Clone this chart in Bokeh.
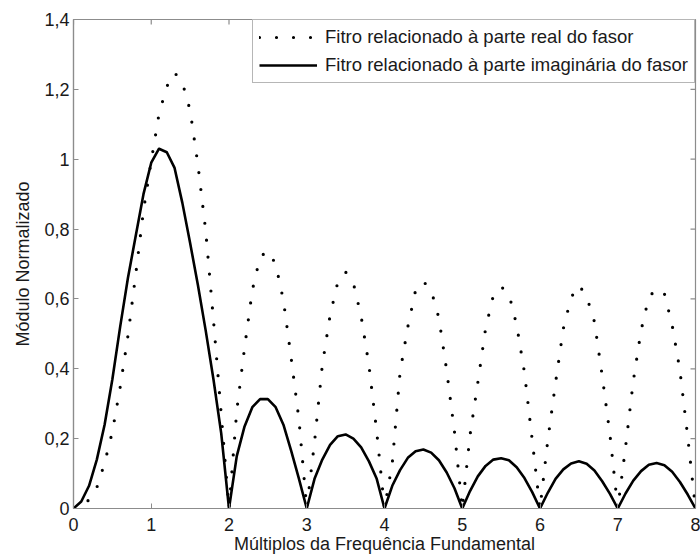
import math
from bokeh.plotting import figure
from bokeh.models import (FixedTicker, Legend, LegendItem, Range1d,
                          ColumnDataSource)
from bokeh.embed import file_html
from bokeh.resources import INLINE

# ---- data ----
freq = [round(i * 0.1, 1) for i in range(81)]

real_filter = [
    0.0, 0.005, 0.025, 0.06, 0.13, 0.22, 0.347, 0.494, 0.67, 0.853,
    0.995, 1.13, 1.208, 1.248, 1.22, 1.14, 0.985, 0.796, 0.54, 0.27,
    0.0, 0.28, 0.46, 0.625, 0.72, 0.738, 0.70, 0.596, 0.43, 0.254,
    0.0, 0.19, 0.41, 0.553, 0.649, 0.677, 0.645, 0.55, 0.41, 0.22,
    0.0, 0.13, 0.39, 0.52, 0.625, 0.65, 0.625, 0.545, 0.395, 0.22,
    0.0, 0.21, 0.36, 0.515, 0.61, 0.635, 0.615, 0.525, 0.39, 0.196,
    0.0, 0.195, 0.36, 0.515, 0.604, 0.64, 0.607, 0.535, 0.38, 0.211,
    0.0, 0.175, 0.365, 0.51, 0.605, 0.63, 0.615, 0.525, 0.395, 0.205,
    0.0,
]

imag_filter = [
    0.0, 0.02, 0.065, 0.14, 0.24, 0.37, 0.52, 0.66, 0.78, 0.9,
    0.99, 1.03, 1.02, 0.975, 0.875, 0.76, 0.64, 0.51, 0.37, 0.215,
    0.0, 0.15, 0.235, 0.29, 0.313, 0.313, 0.29, 0.24, 0.165, 0.085,
    0.0, 0.085, 0.14, 0.182, 0.207, 0.212, 0.2, 0.175, 0.135, 0.085,
    0.0, 0.065, 0.11, 0.145, 0.164, 0.169, 0.16, 0.138, 0.103, 0.058,
    0.0, 0.05, 0.092, 0.122, 0.14, 0.144, 0.138, 0.118, 0.087, 0.047,
    0.0, 0.045, 0.085, 0.112, 0.129, 0.135, 0.128, 0.109, 0.078, 0.042,
    0.0, 0.043, 0.08, 0.107, 0.125, 0.13, 0.124, 0.105, 0.076, 0.04,
    0.0,
]

series_labels = [
    "Fitro relacionado à parte real do fasor",
    "Fitro relacionado à parte imaginária do fasor",
]

x_ticks = [0, 1, 2, 3, 4, 5, 6, 7, 8]
x_tick_labels = ["0", "1", "2", "3", "4", "5", "6", "7", "8"]
y_ticks = [0, 0.2, 0.4, 0.6, 0.8, 1, 1.2, 1.4]
y_tick_labels = ["0", "0,2", "0,4", "0,6", "0,8", "1", "1,2", "1,4"]

x_title = "Múltiplos da Frequência Fundamental"
y_title = "Módulo Normalizado"

x_min, x_max = 0, 8
y_min, y_max = 0, 1.4

# ---- figure ----
FONT = "Liberation Sans"
TXT = "#1a1a1a"
FRAME = "#8c8c8c"

p = figure(width=700, height=559, output_backend="svg", toolbar_location=None,
           x_range=Range1d(x_min, x_max), y_range=Range1d(y_min, y_max),
           min_border_left=73, min_border_right=5, min_border_top=19,
           min_border_bottom=51)
p.background_fill_color = "white"
p.border_fill_color = "white"
p.outline_line_color = FRAME
p.outline_line_width = 1.2
p.xgrid.visible = False
p.ygrid.visible = False

src = ColumnDataSource(dict(x=freq, real=real_filter, imag=imag_filter))

r_real = p.line("x", "real", source=src, line_color="black", line_width=3.2,
                line_dash="0 17", line_cap="round")
r_imag = p.line("x", "imag", source=src, line_color="black", line_width=2.6,
                line_join="round")

# inward ticks on the top and right edges of the box
p.ray(x=x_ticks, y=[y_max] * len(x_ticks), length=5, length_units="screen",
      angle=-math.pi / 2, line_color=FRAME, line_width=1.2)
p.ray(x=[x_max] * len(y_ticks), y=y_ticks, length=5, length_units="screen",
      angle=math.pi, line_color=FRAME, line_width=1.2)

def style_axis(ax, ticks, labels):
    ax.ticker = FixedTicker(ticks=ticks)
    ax.major_label_overrides = {t: l for t, l in zip(ticks, labels)}
    ax.major_tick_in = 5
    ax.major_tick_out = 0
    ax.major_tick_line_color = FRAME
    ax.minor_tick_line_color = None
    ax.axis_line_color = FRAME
    ax.axis_line_width = 1.2
    ax.major_label_text_font = FONT
    ax.major_label_text_color = TXT
    ax.major_label_text_font_size = "18px"
    ax.axis_label_text_font = FONT
    ax.axis_label_text_font_style = "normal"
    ax.axis_label_text_color = TXT
    ax.axis_label_text_font_size = "18px"

style_axis(p.xaxis[0], x_ticks, x_tick_labels)
p.xaxis[0].axis_label = x_title
p.xaxis[0].major_label_standoff = 9
p.xaxis[0].axis_label_standoff = 0

style_axis(p.yaxis[0], y_ticks, y_tick_labels)
p.yaxis[0].axis_label = y_title
p.yaxis[0].major_label_standoff = 4
p.yaxis[0].axis_label_standoff = 8

legend = Legend(items=[LegendItem(label=series_labels[0], renderers=[r_real]),
                       LegendItem(label=series_labels[1], renderers=[r_imag])],
                location="top_right")
legend.margin = 0
legend.padding = 6
legend.spacing = 6
legend.glyph_width = 58
legend.glyph_height = 22
legend.label_height = 22
legend.label_standoff = 8
legend.label_text_font = FONT
legend.label_text_font_size = "18.5px"
legend.label_text_color = TXT
legend.border_line_color = "#6e6e6e"
legend.border_line_width = 1.8
legend.background_fill_color = "white"
legend.background_fill_alpha = 1.0
p.add_layout(legend)

open("out.html", "w").write(file_html(p, INLINE))
